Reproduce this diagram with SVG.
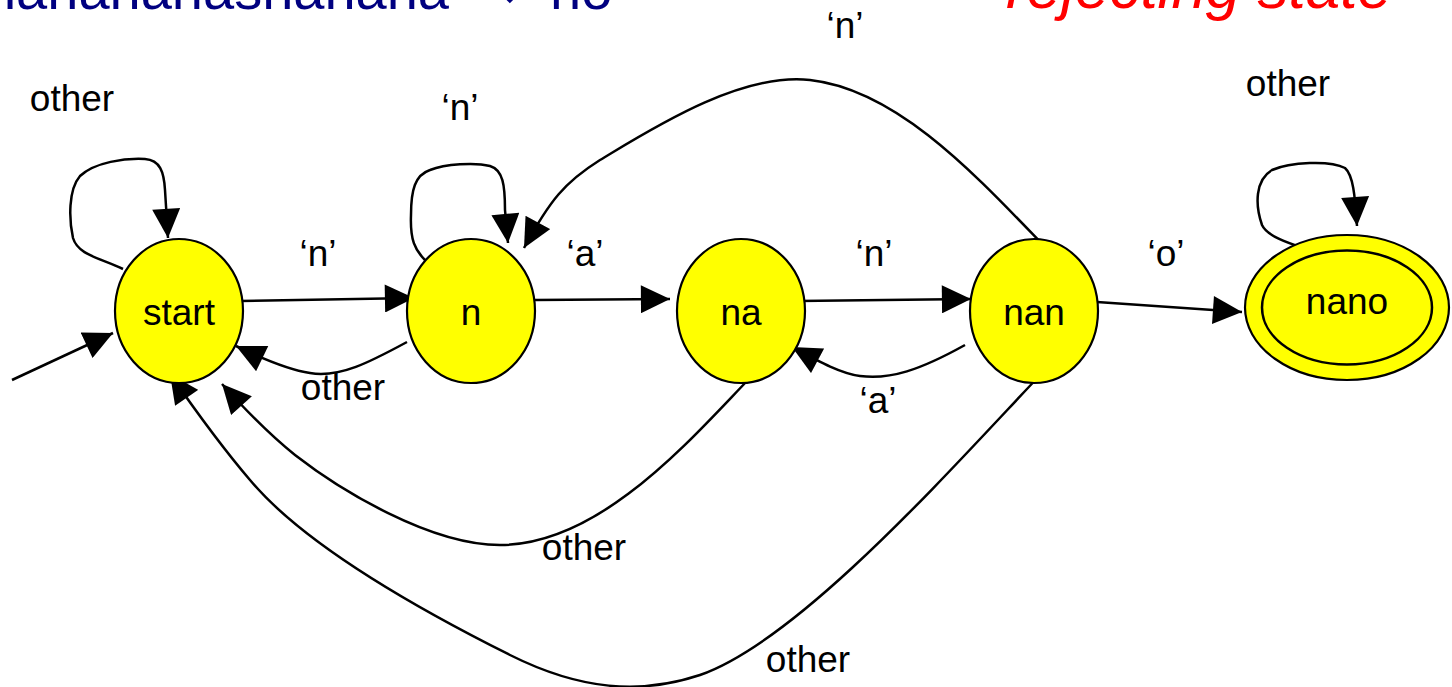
<svg xmlns="http://www.w3.org/2000/svg" width="1452" height="687" viewBox="0 0 1452 687">
<defs>
<marker id="ah" markerUnits="userSpaceOnUse" markerWidth="30" markerHeight="28" viewBox="0 0 27 26" refX="27" refY="13" orient="auto">
<path d="M0,0 L27,13 L0,26 Z" fill="#000"/>
</marker>
<style>
.st{fill:#FFFF00;stroke:#000;stroke-width:2.2}
.dbl{fill:none;stroke:#000;stroke-width:2.5}
.nt{font-family:"Liberation Sans",Arial,sans-serif;font-size:37px;fill:#000;text-anchor:middle}
.lb{font-family:"Liberation Sans",Arial,sans-serif;font-size:37px;fill:#000;text-anchor:middle}
.e{fill:none;stroke:#000;stroke-width:2.5;marker-end:url(#ah)}
</style>
</defs>
<rect width="1452" height="687" fill="#fff"/>
<g id="title">
<text x="449" y="9" font-family="'Liberation Sans',Arial,sans-serif" font-size="56" fill="#000080" text-anchor="end">ananananasnanana</text>
<text x="500" y="9" font-family="'DejaVu Sans','Liberation Sans',sans-serif" font-size="56" fill="#000080" text-anchor="middle">→</text>
<text x="550" y="9" font-family="'Liberation Sans',Arial,sans-serif" font-size="56" fill="#000080">no</text>
<text x="1006" y="8" font-family="'Liberation Sans',Arial,sans-serif" font-size="62" font-style="italic" fill="#FF0000">rejecting state</text>
</g>
<g id="connectors">
<path class="e" d="M12,380 L113,333"/>
<path class="e" d="M123,269 C100,258 78,255 73,238 C69,220 68,190 80,176 C95,162 125,158 145,159 C160,160 164,172 165,190 L168,238"/>
<path class="e" d="M240,301 L414,298"/>
<path class="e" d="M425,260 C415,250 410,240 411,215 C411,190 415,175 430,170 C445,164 475,162 490,166 C503,170 505,185 505,210 L508,243"/>
<path class="e" d="M1050,252 C980,180 900,90 810,80 C740,72 650,130 600,160 C565,182 550,200 524,248"/>
<path class="e" d="M535,300 L670,299"/>
<path class="e" d="M798,301 L971,299"/>
<path class="e" d="M965,345 C920,370 890,380 860,376 C840,373 820,362 792,347"/>
<path class="e" d="M1097,302 L1242,312"/>
<path class="e" d="M1312,251 C1295,245 1268,238 1262,225 C1255,205 1255,180 1272,170 C1290,162 1330,160 1345,168 C1353,175 1355,195 1357,226"/>
<path class="e" d="M407,342 C370,362 340,378 310,373 C290,370 265,360 236,346"/>
<path class="e" d="M748,380 C690,440 600,545 500,545 C430,545 340,490 295,455 C270,435 250,415 222,384"/>
<path class="e" d="M1043,372 C950,470 800,640 700,675 C640,695 580,690 510,655 C400,600 300,540 250,480 C220,445 195,410 170,374"/>
</g>
<g id="node-start">
<ellipse class="st" cx="179" cy="311" rx="64" ry="72"/>
<text class="nt" x="179" y="325">start</text>
</g>
<g id="node-n">
<ellipse class="st" cx="471" cy="311" rx="64" ry="72"/>
<text class="nt" x="471" y="325">n</text>
</g>
<g id="node-na">
<ellipse class="st" cx="741" cy="311" rx="64" ry="72"/>
<text class="nt" x="741" y="325">na</text>
</g>
<g id="node-nan">
<ellipse class="st" cx="1034" cy="311" rx="64" ry="72"/>
<text class="nt" x="1034" y="325">nan</text>
</g>
<g id="node-nano">
<ellipse class="st" cx="1347" cy="307.5" rx="102" ry="72.5" stroke-width="2.5"/>
<ellipse class="dbl" cx="1347" cy="307.5" rx="85" ry="57"/>
<text class="nt" x="1347" y="314">nano</text>
</g>
<g id="labels">
<text class="lb" x="72" y="111">other</text>
<text class="lb" x="460" y="120">‘n’</text>
<text class="lb" x="1288" y="96">other</text>
<text class="lb" x="845" y="38">‘n’</text>
<text class="lb" x="318" y="266">‘n’</text>
<text class="lb" x="585" y="266">‘a’</text>
<text class="lb" x="874" y="266">‘n’</text>
<text class="lb" x="1166" y="266">‘o’</text>
<text class="lb" x="343" y="400">other</text>
<text class="lb" x="878" y="413">‘a’</text>
<text class="lb" x="584" y="560">other</text>
<text class="lb" x="808" y="672">other</text>
</g>
</svg>
